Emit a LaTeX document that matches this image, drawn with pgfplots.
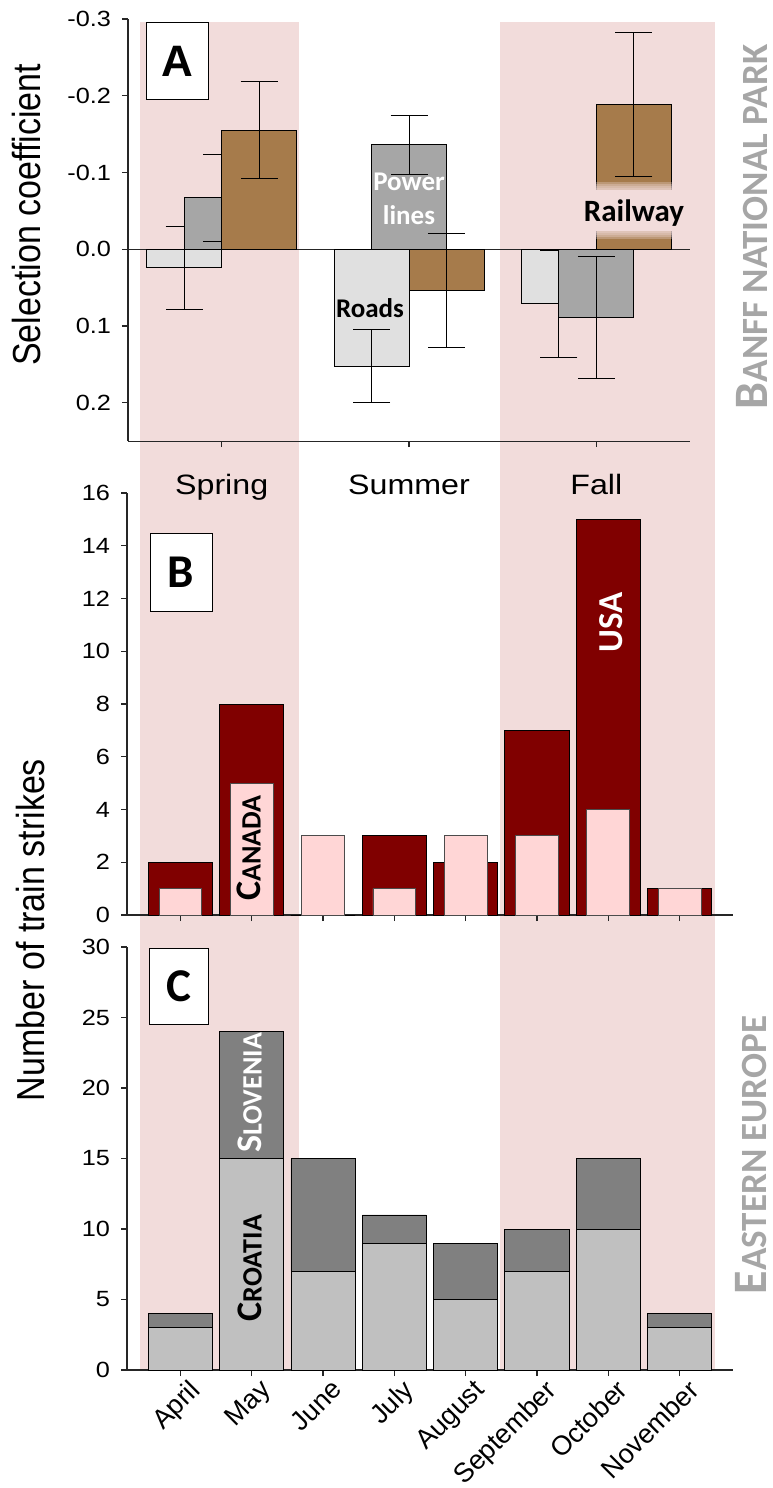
\documentclass[border=0pt]{standalone}
\usepackage{fontspec}
\setmainfont{Liberation Sans}
\newfontfamily\carlito{Carlito}
\usepackage{pgfplots}
\usepackage{pgfplotstable}
\pgfplotsset{compat=1.18}

\definecolor{band}{RGB}{242,220,219}
\definecolor{roads}{RGB}{224,224,224}
\definecolor{power}{RGB}{166,166,166}
\definecolor{rail}{RGB}{166,123,75}
\definecolor{usa}{RGB}{128,0,0}
\definecolor{canada}{RGB}{255,214,214}
\definecolor{croatia}{RGB}{192,192,192}
\definecolor{slovenia}{RGB}{128,128,128}
\definecolor{side}{RGB}{166,166,166}

\newcommand\fs[1]{\fontsize{#1}{#1}\selectfont}

% Panel A: selection coefficients (mean, error) by season; 0 = Spring, 1 = Summer, 2 = Fall
\pgfplotstableread{
x y err
0 0.024 0.054
1 0.152 0.048
2 0.071 0.070
}\roads
\pgfplotstableread{
x y err
0 -0.067 0.057
1 -0.136 0.038
2 0.089 0.079
}\power
\pgfplotstableread{
x y err
0 -0.155 0.063
1 0.054 0.074
2 -0.189 0.094
}\railway

% Panel B: train strikes by month (April = 0 ... November = 7)
\pgfplotstableread{
x usa canada
0 2 1
1 8 5
2 0 3
3 3 1
4 2 3
5 7 3
6 15 4
7 1 1
}\northamerica

% Panel C: train strikes by month, stacked
\pgfplotstableread{
x croatia slovenia
0 3 1
1 15 9
2 7 8
3 9 2
4 5 4
5 7 3
6 10 5
7 3 1
}\eastern

\pgfplotsset{
  panel/.style={
    scale only axis, anchor=south west, clip=false,
    axis x line*=bottom, axis y line*=left,
    axis line style={-, black!85, line width=1.2pt},
    tick align=outside, major tick length=6pt,
    tick style={black!85, line width=1.2pt},
    yticklabel style={font=\fs{22}, xscale=1.15, xshift=-6pt},
    /pgf/number format/assume math mode=true,
  },
  errA/.style={
    error bars/.cd, y dir=both, y explicit,
    error bar style={black, line width=1pt},
    error mark options={rotate=90, mark size=18.5pt, black, line width=1pt},
  },
}

\begin{document}
\begin{tikzpicture}[x=1pt,y=1pt]
\path[use as bounding box] (0pt,0pt) rectangle (773pt,-1488pt);

% seasonal shading (spring and fall) behind all panels
\begin{axis}[scale only axis, anchor=south west, at={(127pt,-1370pt)},
  width=606pt, height=423pt, xmin=-0.75, xmax=7.75, ymin=0, ymax=30,
  hide axis, clip=false]
  \addplot[draw=none, fill=band] coordinates {(-0.568,95.6) (1.663,95.6)} \closedcycle;
  \addplot[draw=none, fill=band] coordinates {(4.482,95.6) (7.498,95.6)} \closedcycle;
\end{axis}

% Panel C
\begin{axis}[panel, at={(127pt,-1370pt)}, width=606pt, height=423pt,
  xmin=-0.75, xmax=7.75, ymin=0, ymax=30, ytick={0,5,...,30},
  xtick={0,...,7},
  xticklabels={April,May,June,July,August,September,October,November},
  xticklabel style={rotate=45, anchor=north east, font=\fs{27}, yshift=-3pt, xshift=7pt},
  ybar stacked, bar width=0.9]
  \addplot[fill=croatia, draw=black, line width=0.8pt] table[x=x, y=croatia]{\eastern};
  \addplot[fill=slovenia, draw=black, line width=0.8pt] table[x=x, y=slovenia]{\eastern};
\end{axis}

% Panel B
\begin{axis}[panel, at={(127pt,-915pt)}, width=606pt, height=422pt,
  xmin=-0.75, xmax=7.75, ymin=0, ymax=16, ytick={0,2,...,16},
  xtick={0,...,7}, xticklabels={,,,,,,,}]
  \addplot[ybar, bar width=0.9, bar shift=0, fill=usa, draw=black, line width=0.8pt]
    table[x=x, y=usa]{\northamerica};
  \addplot[ybar, bar width=0.6, bar shift=0, fill=canada, draw=black!70, line width=0.8pt]
    table[x=x, y=canada]{\northamerica};
\end{axis}

% Panel A (negative coefficients plotted upward); the three series sit side by side
\begin{axis}[panel, at={(128pt,-441.2pt)}, width=562pt, height=422.2pt,
  xmin=-0.5, xmax=2.5, ymin=-0.25, ymax=0.3,
  ytick={-0.2,-0.1,0,0.1,0.2,0.3},
  yticklabels={0.2,0.1,0.0,-0.1,-0.2,-0.3},
  xtick={0,1,2}, xticklabels={Spring,Summer,Fall},
  xticklabel style={font=\fs{28}, xscale=1.15, anchor=base, yshift=-47pt}]
  \draw[black!85, line width=1pt] (axis cs:-0.5,0) -- (axis cs:2.5,0);
  \addplot[ybar, bar width=0.4, bar shift=0, fill=roads, draw=black, line width=0.8pt, errA]
    table[x expr=\thisrow{x}-0.2, y expr=-\thisrow{y}, y error=err]{\roads};
  \addplot[ybar, bar width=0.4, bar shift=0, fill=power, draw=black, line width=0.8pt, errA]
    table[x expr=\thisrow{x}, y expr=-\thisrow{y}, y error=err]{\power};
  \addplot[ybar, bar width=0.4, bar shift=0, fill=rail, draw=black, line width=0.8pt, errA]
    table[x expr=\thisrow{x}+0.2, y expr=-\thisrow{y}, y error=err]{\railway};
\end{axis}

% axis titles
\node[xscale=1.15, rotate=90] at (27pt,-215pt) {\fs{34}Selection coefficient};
\node[xscale=1.15, rotate=90] at (31pt,-930pt) {\fs{34}Number of train strikes};

% panel letters
\node[draw=black, line width=1pt, fill=white, minimum width=62pt, minimum height=76pt, inner sep=0pt]
  at (177pt,-61pt) {\fs{44}\bfseries A};
\node[draw=black, line width=1pt, fill=white, minimum width=62pt, minimum height=78pt, inner sep=0pt]
  at (181pt,-572pt) {\carlito\bfseries\fs{47}B};
\node[draw=black, line width=1pt, fill=white, minimum width=59pt, minimum height=76pt, inner sep=0pt]
  at (178.5pt,-986pt) {\carlito\bfseries\fs{47}C};

% region names
\node[rotate=90, text=side, inner sep=0pt] at (752pt,-227pt) {\carlito\bfseries{\fs{48}B}{\fs{37}ANFF NATIONAL PARK}};
\node[rotate=90, text=side, inner sep=0pt] at (751pt,-1155pt) {\carlito\bfseries{\fs{48}E}{\fs{37}ASTERN EUROPE}};

% series names in panel A
\node at (370pt,-308pt) {\carlito\bfseries\fs{27}Roads};
\node[text=white, align=center, font=\carlito\bfseries\fontsize{27}{34}\selectfont] at (409pt,-199pt) {Power\\lines};
% soft-edged patch behind the Railway name
\foreach \e in {8,6,4,2} {
  \fill[band, opacity=0.3] (560pt-\e pt,-190pt+\e pt) rectangle (697pt+\e pt,-231pt-\e pt);
}
\fill[band] (560pt,-190pt) rectangle (697pt,-231pt);
\node at (634pt,-213pt) {\carlito\bfseries\fs{31}Railway};

% country names
\node[rotate=90, text=white] at (611pt,-622pt) {\carlito\bfseries\fs{35}USA};
\node[rotate=90] at (249pt,-848pt) {\carlito\bfseries{\fs{36}C}{\fs{28}ANADA}};
\node[rotate=90, text=white] at (250pt,-1093pt) {\carlito\bfseries{\fs{36}S}{\fs{28}LOVENIA}};
\node[rotate=90] at (250pt,-1268pt) {\carlito\bfseries{\fs{36}C}{\fs{28}ROATIA}};
\end{tikzpicture}
\end{document}
